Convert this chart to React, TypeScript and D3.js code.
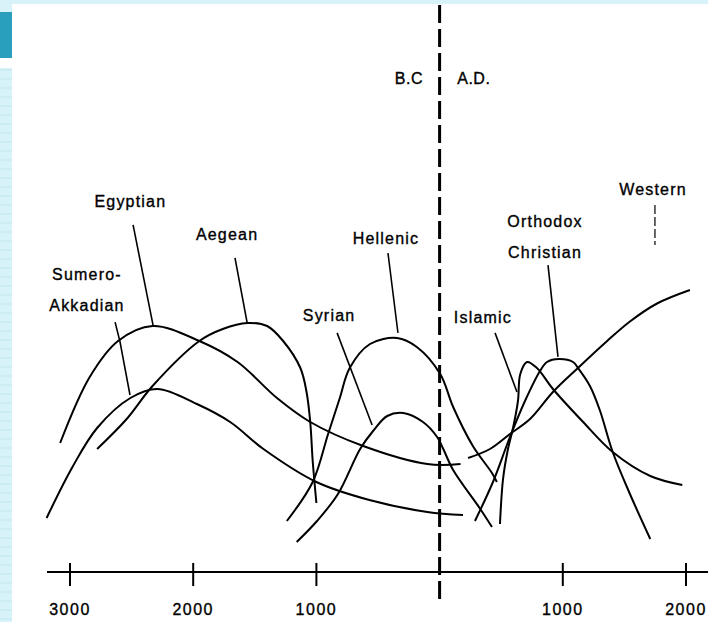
import React from 'react';
import * as d3 from 'd3';

type Pt = [number, number];

// year (negative = B.C.), level of the civilisation curve
const sumeroAkkadian: Pt[] = [[-3190, 18], [-2980, 35], [-2780, 48], [-2510, 58], [-2290, 61], [-1970, 56], [-1700, 50], [-1430, 41], [-1000, 30], [-570, 24], [-100, 20], [190, 19]];
const egyptian: Pt[] = [[-3080, 43], [-2840, 65], [-2610, 77], [-2330, 82], [-1950, 77], [-1640, 70], [-1320, 58], [-1050, 50], [-620, 42], [-100, 36], [170, 36]];
const aegean: Pt[] = [[-2780, 41], [-2540, 51], [-2330, 62], [-1950, 77], [-1760, 81], [-1560, 83], [-1400, 82], [-1270, 77], [-1130, 68], [-1080, 60], [-1050, 50], [-1030, 37], [-1000, 23]];
const hellenic: Pt[] = [[-1240, 17], [-1030, 30], [-905, 46], [-810, 58], [-730, 68], [-565, 76], [-345, 78], [-185, 75], [5, 66], [110, 55], [270, 42], [425, 33], [465, 30]];
const syrian: Pt[] = [[-1160, 10], [-995, 17], [-825, 26], [-645, 41], [-540, 47], [-425, 52], [-295, 53], [-135, 50], [-20, 45], [30, 41], [110, 34], [330, 21], [425, 15]];
const islamic: Pt[] = [[490, 16], [515, 31], [555, 41], [596, 48], [636, 57], [655, 66], [710, 70], [790, 68], [920, 61], [1165, 50], [1405, 40], [1710, 32], [1970, 29]];
const orthodox: Pt[] = [[287, 17], [433, 30], [571, 45], [693, 57], [815, 67], [872, 70], [969, 71], [1083, 70], [1123, 68], [1220, 62], [1300, 54], [1405, 40], [1545, 26], [1710, 11]];
const western: Pt[] = [[231, 38], [409, 41], [571, 46], [734, 51], [920, 60], [1123, 68], [1360, 77], [1545, 83.5], [1765, 89.5], [2032, 94]];

const curves = [sumeroAkkadian, egyptian, aegean, hellenic, syrian, islamic, orthodox, western];

// labels: text lines, year, level of first baseline
const labelNames = ['Egyptian', 'Aegean', 'Sumero-|Akkadian', 'Syrian', 'Hellenic', 'Islamic', 'Orthodox|Christian', 'Western'];
const labelYears = [-2510, -1725, -2862, -897, -435, 352, 856, 1732];
const labelLevels = [121.7, 110.7, 97.3, 83.7, 109.3, 83, 115, 125.7];

// leader lines from label to curve
const leaders: Pt[][] = [
  [[-2488, 115.7], [-2326, 82.3]],
  [[-1661, 104.7], [-1563, 83.3]],
  [[-2634, 83.3], [-2594, 76.7], [-2513, 59]],
  [[-832, 79.7], [-548, 49]],
  [[-419, 106.3], [-338, 79.7]],
  [[450, 79.7], [628, 60]],
  [[880, 102.3], [961, 71.7]],
];
const westernLeader: Pt[] = [[1748, 122.3], [1748, 109]];

const tickYears = [-3000, -2000, -1000, 1000, 2000];
const tickLabels = ['3000', '2000', '1000', '1000', '2000'];

const W = 708;
const H = 622;
const FONT = "'Liberation Sans', Arial, sans-serif";

export default function App() {
  const x = d3.scaleLinear().domain([-3000, 2000]).range([70, 686]);
  const y = d3.scaleLinear().domain([0, 190]).range([572, 2]);
  const curve = d3.line<Pt>().x(d => x(d[0])).y(d => y(d[1])).curve(d3.curveCatmullRom.alpha(0.5));
  const straight = d3.line<Pt>().x(d => x(d[0])).y(d => y(d[1]));
  const axisY = y(0);
  const stripes = d3.range(70, H, 9);
  const textStyle = { fill: '#000', stroke: '#000', strokeWidth: 0.35 };

  return (
    <svg width={W} height={H} style={{ position: 'absolute', left: 0, top: 0, background: '#fff' }}>
      {/* slide frame */}
      <rect x={0} y={0} width={W} height={4} fill="#d7f2f8" />
      <rect x={0} y={0} width={12} height={H} fill="#d7f2f8" />
      <rect x={0} y={58} width={12} height={10} fill="#fff" />
      <rect x={0} y={12} width={12} height={46} fill="#2a9fbd" />
      {stripes.map(s => (
        <line key={s} x1={0} x2={12} y1={s} y2={s} stroke="#c3e7ef" strokeWidth={1} />
      ))}

      {/* era divider */}
      <line x1={x(0)} x2={x(0)} y1={y(189)} y2={y(-9)} stroke="#000" strokeWidth={3} strokeDasharray="18,6" />
      <text x={x(-135)} y={y(162.7)} textAnchor="end" fontFamily={FONT} fontSize={16} letterSpacing={0.5} style={textStyle}>B.C</text>
      <text x={x(143)} y={y(162.7)} fontFamily={FONT} fontSize={16} letterSpacing={0.5} style={textStyle}>A.D.</text>

      {/* time axis */}
      <line x1={47} x2={W} y1={axisY} y2={axisY} stroke="#000" strokeWidth={2} />
      {tickYears.map((t, i) => (
        <g key={t}>
          <line x1={x(t)} x2={x(t)} y1={axisY - 9} y2={axisY + 14} stroke="#000" strokeWidth={2} />
          <text x={x(t)} y={axisY + 43} textAnchor="middle" fontFamily={FONT} fontSize={16} letterSpacing={1.5} style={textStyle}>
            {tickLabels[i]}
          </text>
        </g>
      ))}

      {curves.map((c, i) => (
        <path key={i} d={curve(c) ?? ''} fill="none" stroke="#000" strokeWidth={2} />
      ))}

      {leaders.map((l, i) => (
        <path key={i} d={straight(l) ?? ''} fill="none" stroke="#000" strokeWidth={1.6} />
      ))}
      <path d={straight(westernLeader) ?? ''} fill="none" stroke="#000" strokeWidth={1.2} strokeDasharray="9,3" />

      {labelNames.map((name, i) => (
        <text key={name} x={x(labelYears[i])} y={y(labelLevels[i])} textAnchor="middle" fontFamily={FONT} fontSize={16} letterSpacing={1.2} style={textStyle}>
          {name.split('|').map((part, j) => (
            <tspan key={j} x={x(labelYears[i])} dy={j === 0 ? 0 : 31}>{part}</tspan>
          ))}
        </text>
      ))}
    </svg>
  );
}
